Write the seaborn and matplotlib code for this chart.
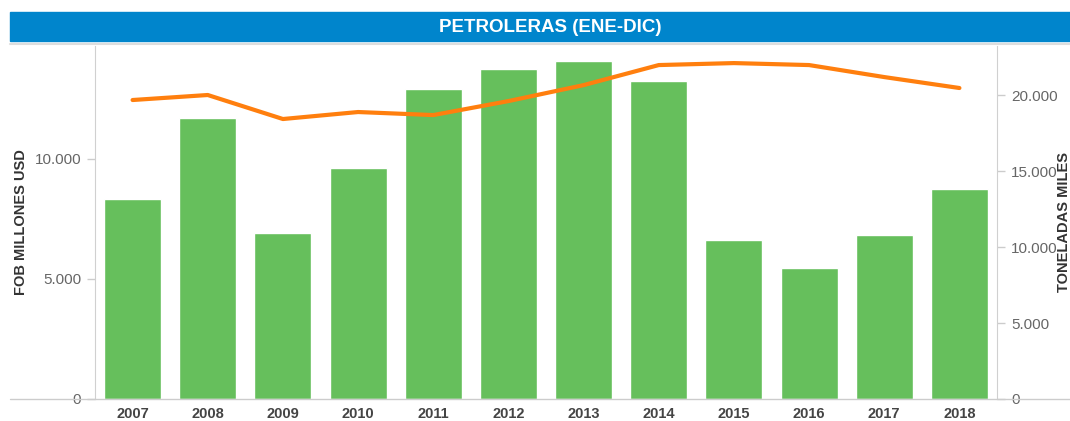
import matplotlib.pyplot as plt
import numpy as np
import pandas as pd
import seaborn as sns
from matplotlib.lines import Line2D
from matplotlib.patches import Rectangle

# Data
years = ["2007", "2008", "2009", "2010", "2011", "2012",
         "2013", "2014", "2015", "2016", "2017", "2018"]
fob_musd = [8330, 11710, 6920, 9620, 12920, 13750,
            14080, 13250, 6620, 5460, 6830, 8750]
toneladas_miles = [19670, 20000, 18420, 18880, 18680, 19600,
                   20650, 21970, 22100, 21970, 21180, 20460]

df = pd.DataFrame({"year": years, "fob": fob_musd, "ton": toneladas_miles})

sns.set_style("white")
plt.rcParams["font.family"] = ["Liberation Sans", "DejaVu Sans"]

fig = plt.figure(figsize=(10.70, 4.21), dpi=100)
ax = fig.add_axes([95 / 1070, 1 - 399 / 421, 902 / 1070, 353 / 421])

sns.barplot(data=df, x="year", y="fob", color="#66BF5C", saturation=1,
            width=0.76, ax=ax)
ax.set_ylim(0, 14708)
ax.set_xlim(-0.5, len(years) - 0.5)

ax2 = ax.twinx()
sns.lineplot(x=np.arange(len(years)), y=df["ton"], color="#FF7F0E",
             linewidth=3, ax=ax2)
ax2.set_ylim(0, 23224)

# ticks and labels
ax.set_yticks([0, 5000, 10000])
ax.set_yticklabels(["0", "5.000", "10.000"])
ax2.set_yticks([0, 5000, 10000, 15000, 20000])
ax2.set_yticklabels(["0", "5.000", "10.000", "15.000", "20.000"])
for a in (ax, ax2):
    a.tick_params(axis="y", colors="#CCCCCC", labelcolor="#666666",
                  labelsize=11, length=6, width=1, pad=4)

ax.set_xticks(np.arange(len(years)))
ax.set_xticklabels(years, fontweight="bold", color="#444444", fontsize=10.5)
ax.set_xticks(np.arange(len(years) + 1) - 0.5, minor=True)
ax.tick_params(axis="x", which="major", length=0, pad=6)
ax.tick_params(axis="x", which="minor", length=5, color="#CCCCCC", width=1)

ax.set_xlabel("")
ax.set_ylabel("FOB MILLONES USD", fontweight="bold", color="#333333",
              fontsize=10.5)
ax.yaxis.set_label_coords(-0.0743, 0.5)
ax2.set_ylabel("TONELADAS MILES", fontweight="bold", color="#333333",
               fontsize=10.5, rotation=90)
ax2.yaxis.set_label_coords(1.0665, 0.5)

for a in (ax, ax2):
    for side in ("top", "bottom"):
        a.spines[side].set_visible(False)
    a.spines["left"].set_color("#D0D0D0")
    a.spines["right"].set_color("#D0D0D0")
ax.spines["right"].set_visible(False)
ax2.spines["left"].set_visible(False)

# title band and frame lines
fig.patches.append(Rectangle((10 / 1070, 1 - 41 / 421), 1060 / 1070, 29 / 421,
                             transform=fig.transFigure, color="#0085CC",
                             zorder=0))
fig.text(550 / 1070, 1 - 27 / 421, "PETROLERAS (ENE-DIC)", color="white",
         fontweight="bold", fontsize=13.5, ha="center", va="center")
fig.add_artist(Line2D([10 / 1070, 1], [1 - 44 / 421, 1 - 44 / 421],
                      color="#DDDDDD", linewidth=1.5))
fig.add_artist(Line2D([10 / 1070, 1], [1 - 399 / 421, 1 - 399 / 421],
                      color="#CCCCCC", linewidth=1))

fig.savefig("out.png", dpi=100)
